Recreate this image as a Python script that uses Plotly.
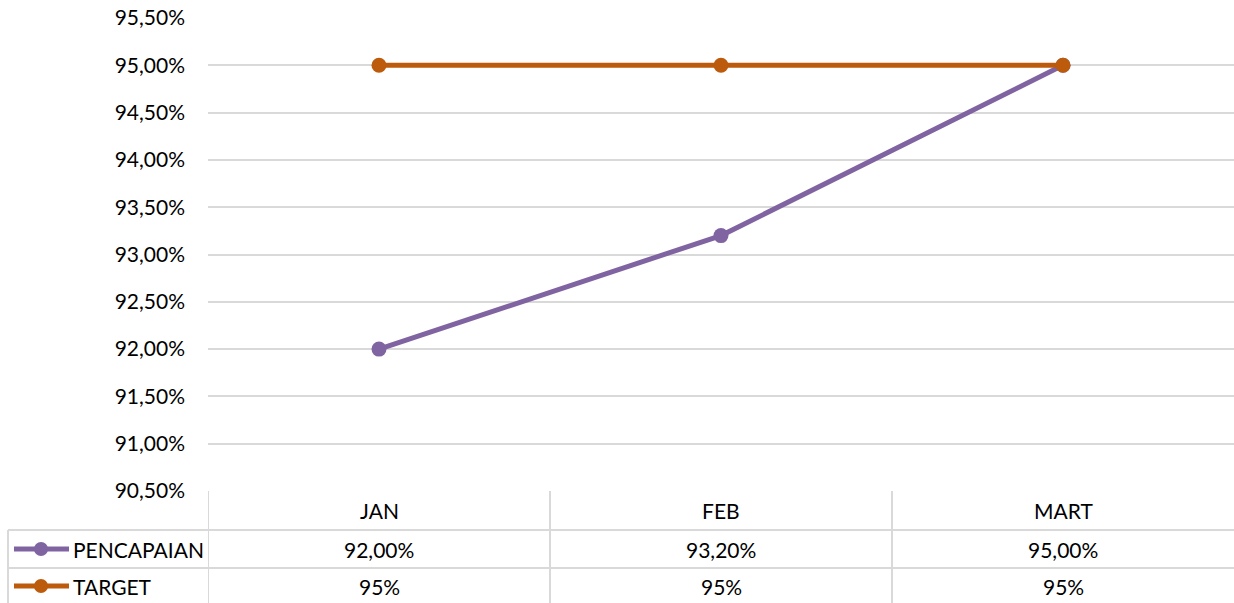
import plotly.graph_objects as go

months = ["JAN", "FEB", "MART"]
pencapaian = [92.0, 93.2, 95.0]
target = [95.0, 95.0, 95.0]
pencapaian_labels = ["92,00%", "93,20%", "95,00%"]
target_labels = ["95%", "95%", "95%"]

purple = "#8064A2"
orange = "#BC5B0B"
grid = "#D9D9D9"
font = "Lato, 'Open Sans', sans-serif"
fs = 21

W, H = 1234, 603
L, T, B = 208, 18, 112
plot_h = H - T - B
plot_w = W - L


def py(px):  # pixel y -> paper y
    return (H - B - px) / plot_h


def pxx(px):  # pixel x -> paper x
    return (px - L) / plot_w


fig = go.Figure()
fig.add_trace(go.Scatter(x=list(range(3)), y=pencapaian, mode="lines+markers", name="PENCAPAIAN",
                         line=dict(color=purple, width=5), marker=dict(size=15, color=purple)))
fig.add_trace(go.Scatter(x=list(range(3)), y=target, mode="lines+markers", name="TARGET",
                         line=dict(color=orange, width=5), marker=dict(size=15, color=orange)))

shapes = []
annotations = []
row_y = [py(510), py(549), py(586)]

# table lines
for xv in [-0.5, 0.5, 1.5]:
    shapes.append(dict(type="line", xref="x", yref="paper", x0=xv, x1=xv, y0=0, y1=py(H + 2),
                       line=dict(color=grid, width=2)))
for yy in [530, 568]:
    shapes.append(dict(type="line", xref="paper", yref="paper", x0=pxx(8), x1=1, y0=py(yy), y1=py(yy),
                       line=dict(color=grid, width=2)))
shapes.append(dict(type="line", xref="paper", yref="paper", x0=pxx(8), x1=pxx(8), y0=py(530), y1=py(H + 2),
                   line=dict(color=grid, width=2)))

# legend keys
for r, (name, col) in enumerate([("PENCAPAIAN", purple), ("TARGET", orange)]):
    yk = row_y[r + 1]
    shapes.append(dict(type="line", xref="paper", yref="paper", x0=pxx(14), x1=pxx(69), y0=yk, y1=yk,
                       line=dict(color=col, width=5)))
    shapes.append(dict(type="circle", xref="paper", yref="paper", x0=pxx(34), x1=pxx(48),
                       y0=yk - 7 / plot_h, y1=yk + 7 / plot_h, fillcolor=col, line=dict(color=col, width=0)))
    annotations.append(dict(x=pxx(71), y=yk, xref="paper", yref="paper", text=name, showarrow=False,
                            xanchor="left", yanchor="middle", font=dict(size=fs, color="#000", family=font)))

for i, m in enumerate(months):
    for r, txt in enumerate([m, pencapaian_labels[i], target_labels[i]]):
        annotations.append(dict(x=i, y=row_y[r], xref="x", yref="paper", text=txt, showarrow=False,
                                xanchor="center", yanchor="middle", font=dict(size=fs, color="#000", family=font)))

fig.update_layout(
    width=W, height=H, margin=dict(l=L, r=0, t=T, b=B),
    paper_bgcolor="white", plot_bgcolor="white", showlegend=False,
    separators=",.",
    font=dict(family=font, size=fs, color="#000"),
    xaxis=dict(range=[-0.5, 2.5], showticklabels=False, showgrid=False, zeroline=False, fixedrange=True),
    yaxis=dict(range=[90.5, 95.5], dtick=0.5, tick0=90.5, tickformat=".2f", ticksuffix="%",
               showgrid=True, gridcolor=grid, gridwidth=2, zeroline=False, ticks="",
               ticklabelstandoff=22, tickfont=dict(size=fs, color="#000", family=font)),
    shapes=shapes, annotations=annotations,
)

fig.write_html("out.html", config={"displayModeBar": False},
               post_script="document.body.style.margin='0';document.body.style.overflow='hidden';")
